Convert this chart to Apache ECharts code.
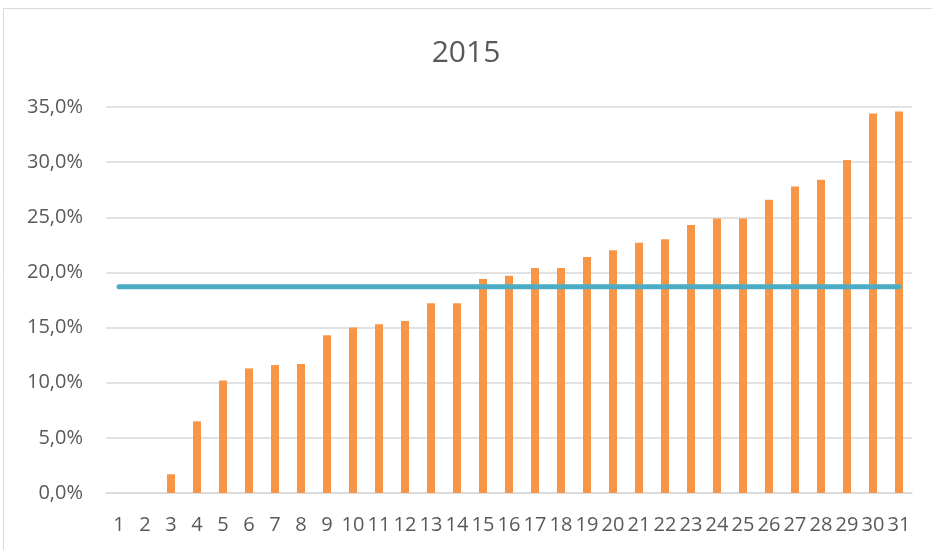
<!DOCTYPE html>
<html><head><meta charset="utf-8">
<script src="https://cdn.jsdelivr.net/npm/echarts@6/dist/echarts.min.js"></script>
<style>html,body{margin:0;padding:0;background:#fff}#c{width:932px;height:550px}</style>
</head><body><div id="c"></div>
<script>
const categories = ['1','2','3','4','5','6','7','8','9','10','11','12','13','14','15','16','17','18','19','20','21','22','23','24','25','26','27','28','29','30','31'];
const barValues = [0,0,1.7,6.5,10.2,11.3,11.6,11.7,14.3,15.0,15.3,15.6,17.2,17.2,19.4,19.7,20.4,20.4,21.4,22.0,22.7,23.0,24.3,24.9,24.9,26.6,27.8,28.4,30.2,34.4,34.6];
const avgValues = [18.7,18.7,18.7,18.7,18.7,18.7,18.7,18.7,18.7,18.7,18.7,18.7,18.7,18.7,18.7,18.7,18.7,18.7,18.7,18.7,18.7,18.7,18.7,18.7,18.7,18.7,18.7,18.7,18.7,18.7,18.7];
const titleText = '2015';

const chart = echarts.init(document.getElementById('c'));
const font = "'Open Sans', 'Liberation Sans', sans-serif";
chart.setOption({
  animation: false,
  backgroundColor: '#fff',
  graphic: [{type:'rect', shape:{x:3.5,y:8.5,width:940,height:560}, style:{fill:'none', stroke:'#d9d9d9', lineWidth:1}}],
  title: {text: titleText, left: 'center', top: 33, textStyle:{fontFamily: font, fontSize: 30, fontWeight: 'normal', color:'#595959'}},
  grid: {left: 106, right: 20, top: 107, bottom: 57},
  xAxis: {type:'category', data: categories,
    axisLine:{lineStyle:{color:'#d9d9d9', width:1.5}}, axisTick:{show:false},
    axisLabel:{interval:0, color:'#595959', fontSize:20, fontFamily:font, margin:22}},
  yAxis: {type:'value', min:0, max:35, interval:5,
    axisLine:{show:false}, axisTick:{show:false},
    splitLine:{lineStyle:{color:'#d9d9d9', width:1.5}},
    axisLabel:{color:'#595959', fontSize:20, fontFamily:font, margin:23,
      formatter: v => v.toFixed(1).replace('.', ',') + '%'}},
  series: [
    {type:'bar', data: barValues, barWidth: 8, itemStyle:{color:'#F79646'}},
    {type:'line', data: avgValues, symbol:'none', lineStyle:{color:'#4BACC6', width:5, cap:'round'}, z:3}
  ]
});
</script></body></html>
